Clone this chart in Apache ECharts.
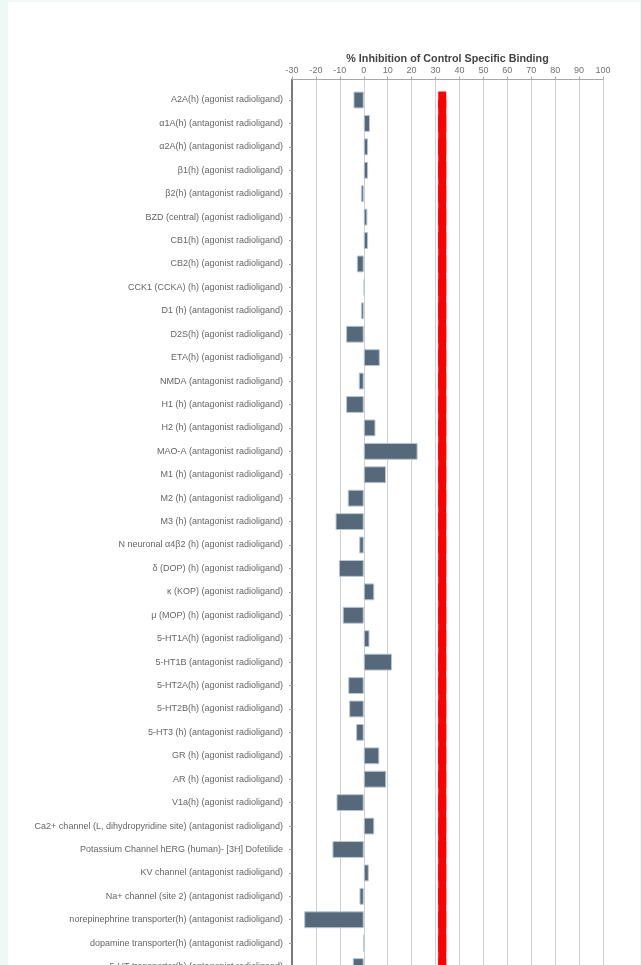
<!DOCTYPE html>
<html>
<head>
<meta charset="utf-8">
<script src="https://cdn.jsdelivr.net/npm/echarts@6/dist/echarts.min.js"></script>
<style>
  html, body { margin: 0; padding: 0; background: #eef9f6; overflow: hidden; }
  #panel { position: absolute; left: 8px; top: 2px; width: 632px; height: 1000px; background: #ffffff; }
  #chart { width: 632px; height: 1000px; }
</style>
</head>
<body>
<div id="panel"><div id="chart"></div></div>
<script>
// Targets in the binding panel, top to bottom
const categories = [
  'A2A(h) (agonist radioligand)',
  'α1A(h) (antagonist radioligand)',
  'α2A(h) (antagonist radioligand)',
  'β1(h) (agonist radioligand)',
  'β2(h) (antagonist radioligand)',
  'BZD (central) (agonist radioligand)',
  'CB1(h) (agonist radioligand)',
  'CB2(h) (agonist radioligand)',
  'CCK1 (CCKA) (h) (agonist radioligand)',
  'D1 (h) (antagonist radioligand)',
  'D2S(h) (agonist radioligand)',
  'ETA(h) (agonist radioligand)',
  'NMDA (antagonist radioligand)',
  'H1 (h) (antagonist radioligand)',
  'H2 (h) (antagonist radioligand)',
  'MAO-A (antagonist radioligand)',
  'M1 (h) (antagonist radioligand)',
  'M2 (h) (antagonist radioligand)',
  'M3 (h) (antagonist radioligand)',
  'N neuronal α4β2 (h) (agonist radioligand)',
  'δ (DOP) (h) (agonist radioligand)',
  'κ (KOP) (agonist radioligand)',
  'μ (MOP) (h) (agonist radioligand)',
  '5-HT1A(h) (agonist radioligand)',
  '5-HT1B (antagonist radioligand)',
  '5-HT2A(h) (agonist radioligand)',
  '5-HT2B(h) (agonist radioligand)',
  '5-HT3 (h) (antagonist radioligand)',
  'GR (h) (agonist radioligand)',
  'AR (h) (agonist radioligand)',
  'V1a(h) (agonist radioligand)',
  'Ca2+ channel (L, dihydropyridine site) (antagonist radioligand)',
  'Potassium Channel hERG (human)- [3H] Dofetilide',
  'KV channel (antagonist radioligand)',
  'Na+ channel (site 2) (antagonist radioligand)',
  'norepinephrine transporter(h) (antagonist radioligand)',
  'dopamine transporter(h) (antagonist radioligand)',
  '5-HT transporter(h) (antagonist radioligand)'
];

// % inhibition of control specific binding for each target
const inhibition = [
  -4.3, 2.6, 1.8, 1.8, -1.2, 1.5, 1.8, -2.9, 0.3, -1.2,
  -7.4, 6.7, -2.1, -7.4, 4.9, 22.5, 9.3, -6.7, -11.8, -1.9,
  -10.4, 4.4, -8.8, 2.4, 11.8, -6.5, -6.1, -3.2, 6.5, 9.4,
  -11.4, 4.4, -13.1, 2.1, -1.8, -24.9, 0.0, -4.6
];

// Axis scale
const axisMin = -30;
const axisMax = 100;
const axisStep = 10;

// Significance threshold drawn as a red reference bar
const thresholdValue = 32.8;

const axisTitle = '% Inhibition of Control Specific Binding';
const labelFont = "'Liberation Sans', Arial, sans-serif";

const thresholdLine = categories.map(c => [thresholdValue, c]);

const chart = echarts.init(document.getElementById('chart'), null, { renderer: 'canvas' });

chart.setOption({
  animation: false,
  grid: [
    // thin strip under the top axis
    { left: 284, width: 311, top: 77.5, height: 8.8 },
    // main plotting area
    { left: 284, width: 311, top: 86.3, height: 890 }
  ],
  xAxis: [
    {
      gridIndex: 0,
      type: 'value',
      position: 'top',
      min: axisMin, max: axisMax, interval: axisStep,
      name: axisTitle,
      nameLocation: 'middle',
      nameGap: 15,
      nameTextStyle: { fontFamily: labelFont, fontSize: 10.75, fontWeight: 'bold', color: '#444444' },
      axisLine: { show: true, onZero: false, lineStyle: { color: '#a8a8a8', width: 1 } },
      axisTick: { show: true, length: 3, lineStyle: { color: '#a8a8a8' } },
      axisLabel: { fontFamily: labelFont, fontSize: 9, color: '#707070', margin: 4 },
      splitLine: { show: true, lineStyle: { color: '#cfcfcf', width: 1 } }
    },
    {
      gridIndex: 1,
      type: 'value',
      min: axisMin, max: axisMax, interval: axisStep,
      axisLine: { show: false, onZero: false },
      axisTick: { show: false },
      axisLabel: { show: false },
      splitLine: { show: true, lineStyle: { color: '#cfcfcf', width: 1 } }
    }
  ],
  yAxis: [
    {
      gridIndex: 0,
      type: 'value',
      min: 0, max: 1,
      axisLine: { show: true, onZero: false, lineStyle: { color: '#7a7a7a', width: 2 } },
      axisTick: { show: false },
      axisLabel: { show: false },
      splitLine: { show: false }
    },
    {
      gridIndex: 1,
      type: 'category',
      inverse: true,
      data: categories,
      axisLine: { show: true, onZero: false, lineStyle: { color: '#7a7a7a', width: 2 } },
      axisTick: { show: true, length: 3, alignWithLabel: true, lineStyle: { color: '#a0a0a0' } },
      axisLabel: { fontFamily: labelFont, fontSize: 9, color: '#666666', margin: 9 },
      splitLine: { show: false }
    }
  ],
  series: [
    {
      type: 'bar',
      xAxisIndex: 1,
      yAxisIndex: 1,
      data: inhibition,
      barWidth: '72%',
      itemStyle: { color: '#55697a', borderColor: '#b9c6d2', borderWidth: 1 }
    },
    {
      type: 'line',
      xAxisIndex: 1,
      yAxisIndex: 1,
      data: thresholdLine,
      symbol: 'rect',
      symbolSize: [8, 17],
      lineStyle: { color: '#ff0000', width: 8, cap: 'butt' },
      itemStyle: { color: '#ff0000' },
      z: 3
    }
  ]
});
</script>
</body>
</html>
